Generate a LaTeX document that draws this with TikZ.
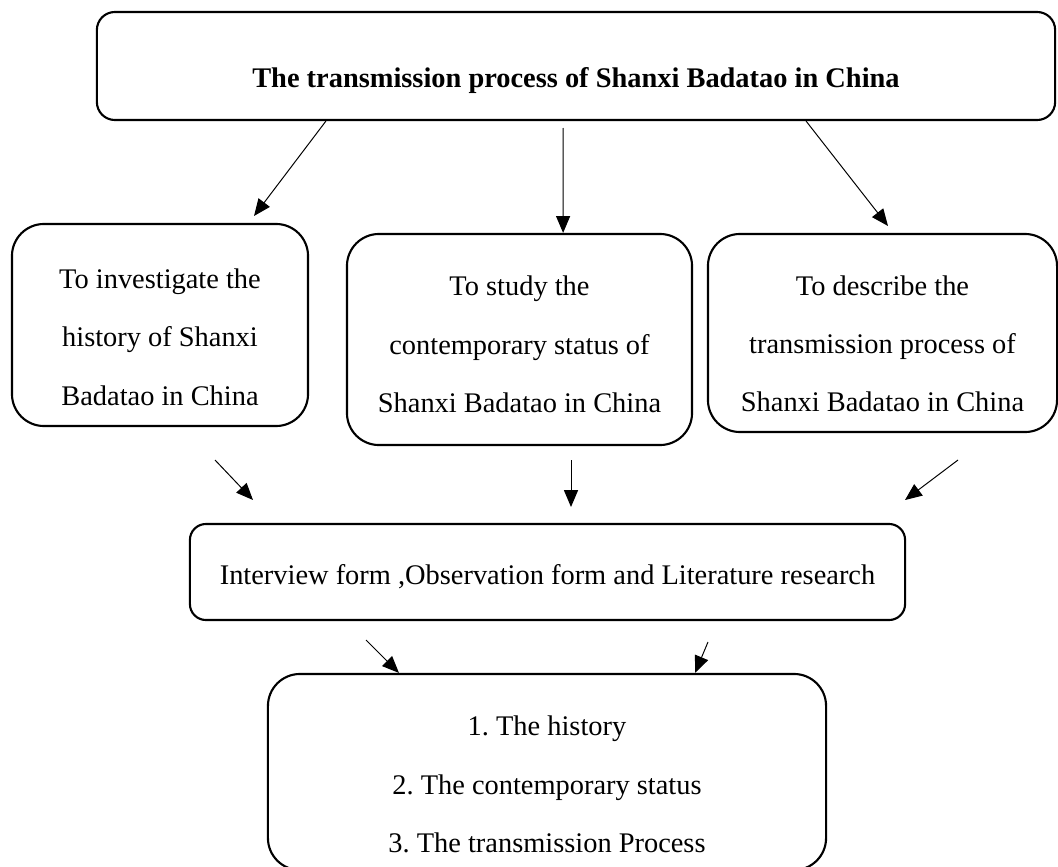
\documentclass[tikz,border=0pt]{standalone}
\usepackage{fontspec}
\setmainfont{Liberation Serif}
\usetikzlibrary{arrows.meta}
\frenchspacing
% extra room above the first line of a box
\newcommand{\topgap}[1]{\rule{0pt}{#1}}

\begin{document}
\begin{tikzpicture}[x=0.025cm, y=-0.025cm,
    box/.style={draw, line width=1.5pt, rounded corners=0.8cm, align=center, inner sep=0pt,
      font=\fontsize{20.2}{41.5}\selectfont},
    arr/.style={-{Triangle[length=12pt,width=10pt]}, line width=0.7pt}]
  \useasboundingbox (0,0) rectangle (1058,867);

  %Nodes
  \node[box, rounded corners=0.45cm, minimum width=23.95cm, minimum height=2.7cm,
        font=\fontsize{20.2}{41.5}\selectfont\bfseries] (title) at (576,66)
        {\topgap{35pt}The transmission process of Shanxi Badatao in China};
  \node[box, minimum width=7.4cm, minimum height=5.05cm] (history) at (160,325)
        {\topgap{31pt}To investigate the\\history of Shanxi\\Badatao in China};
  \node[box, minimum width=8.625cm, minimum height=5.275cm] (status) at (519.5,339.5)
        {\topgap{21pt}To study the\\contemporary status of\\Shanxi Badatao in China};
  \node[box, minimum width=8.725cm, minimum height=4.95cm] (process) at (882.5,333)
        {\topgap{29.5pt}To describe the\\transmission process of\\Shanxi Badatao in China};
  \node[box, rounded corners=0.4cm, minimum width=17.875cm, minimum height=2.4cm] (method) at (547.5,572)
        {\topgap{21pt}Interview form ,Observation form and Literature research};
  \node[box, minimum width=13.95cm, minimum height=4.9cm] (result) at (547,772)
        {\topgap{32pt}1. The history\\2. The contemporary status\\3. The transmission Process};

  %Arrow ends
  \coordinate (hA) at (254,216);
  \coordinate (tB) at (563,128);
  \coordinate (hC) at (888,226);
  \coordinate (tD) at (215,460);
  \coordinate (hD) at (253,500);
  \coordinate (tE) at (571,460);
  \coordinate (hE) at (571,507);
  \coordinate (tF) at (958,460);
  \coordinate (hF) at (905,500);
  \coordinate (tG) at (366,640);
  \coordinate (tH) at (708,642);

  %Lines
  \draw[arr] ([xshift=-6.25cm]title.south) -- (hA);
  \draw[arr] (tB) -- ([xshift=1.09cm]status.north);
  \draw[arr] ([xshift=5.75cm]title.south) -- (hC);
  \draw[arr] (tD) -- (hD);
  \draw[arr] (tE) -- (hE);
  \draw[arr] (tF) -- (hF);
  \draw[arr] (tG) -- ([xshift=-3.7cm]result.north);
  \draw[arr] (tH) -- ([xshift=3.7cm]result.north);
\end{tikzpicture}
\end{document}
